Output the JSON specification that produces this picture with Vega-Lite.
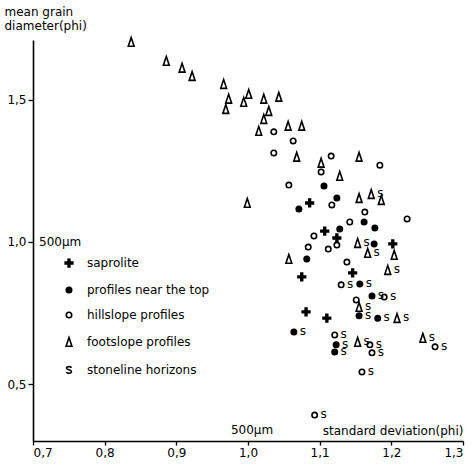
{
  "$schema": "https://vega.github.io/schema/vega-lite/v6.json",
  "width": 430,
  "height": 401,
  "autosize": {"type": "none"},
  "padding": {"left": 33, "top": 40, "right": 8, "bottom": 24},
  "background": "white",
  "config": {
    "view": {"stroke": null},
    "font": "DejaVu Sans",
    "axis": {
      "domainColor": "black",
      "domainWidth": 1.6,
      "tickColor": "black",
      "tickWidth": 1.3,
      "labelColor": "black",
      "labelFontSize": 12,
      "titleColor": "black",
      "titleFontSize": 12,
      "titleFontWeight": "normal",
      "grid": false
    },
    "legend": {
      "title": null,
      "orient": "none",
      "legendX": 30,
      "legendY": 217,
      "padding": 0,
      "symbolSize": 81,
      "symbolStrokeWidth": 1.6,
      "symbolOpacity": 1,
      "labelFontSize": 12,
      "labelColor": "black",
      "labelOffset": 12,
      "rowPadding": 13,
      "labelLimit": 300
    }
  },
  "datasets": {
    "pts": [
      {"sd": 1.086, "mean": 1.137, "type": "saprolite", "s": false},
      {"sd": 1.107, "mean": 1.038, "type": "saprolite", "s": false},
      {"sd": 1.124, "mean": 1.014, "type": "saprolite", "s": false},
      {"sd": 1.202, "mean": 0.993, "type": "saprolite", "s": false},
      {"sd": 1.146, "mean": 0.891, "type": "saprolite", "s": false},
      {"sd": 1.075, "mean": 0.877, "type": "saprolite", "s": false},
      {"sd": 1.081, "mean": 0.754, "type": "saprolite", "s": false},
      {"sd": 1.110, "mean": 0.732, "type": "saprolite", "s": false},

      {"sd": 1.106, "mean": 1.197, "type": "profiles near the top", "s": false},
      {"sd": 1.124, "mean": 1.154, "type": "profiles near the top", "s": false},
      {"sd": 1.071, "mean": 1.116, "type": "profiles near the top", "s": false},
      {"sd": 1.162, "mean": 1.070, "type": "profiles near the top", "s": false},
      {"sd": 1.128, "mean": 1.045, "type": "profiles near the top", "s": false},
      {"sd": 1.177, "mean": 1.049, "type": "profiles near the top", "s": false},
      {"sd": 1.176, "mean": 0.993, "type": "profiles near the top", "s": false},
      {"sd": 1.082, "mean": 0.940, "type": "profiles near the top", "s": false},
      {"sd": 1.156, "mean": 0.852, "type": "profiles near the top", "s": true},
      {"sd": 1.173, "mean": 0.810, "type": "profiles near the top", "s": true},
      {"sd": 1.155, "mean": 0.740, "type": "profiles near the top", "s": true},
      {"sd": 1.181, "mean": 0.732, "type": "profiles near the top", "s": true},
      {"sd": 1.064, "mean": 0.683, "type": "profiles near the top", "s": true},
      {"sd": 1.123, "mean": 0.638, "type": "profiles near the top", "s": true},
      {"sd": 1.121, "mean": 0.613, "type": "profiles near the top", "s": true},

      {"sd": 1.036, "mean": 1.387, "type": "hillslope profiles", "s": false},
      {"sd": 1.063, "mean": 1.355, "type": "hillslope profiles", "s": false},
      {"sd": 1.036, "mean": 1.313, "type": "hillslope profiles", "s": false},
      {"sd": 1.116, "mean": 1.302, "type": "hillslope profiles", "s": false},
      {"sd": 1.102, "mean": 1.246, "type": "hillslope profiles", "s": false},
      {"sd": 1.184, "mean": 1.270, "type": "hillslope profiles", "s": false},
      {"sd": 1.057, "mean": 1.200, "type": "hillslope profiles", "s": false},
      {"sd": 1.117, "mean": 1.130, "type": "hillslope profiles", "s": false},
      {"sd": 1.163, "mean": 1.105, "type": "hillslope profiles", "s": false},
      {"sd": 1.222, "mean": 1.081, "type": "hillslope profiles", "s": false},
      {"sd": 1.142, "mean": 1.070, "type": "hillslope profiles", "s": false},
      {"sd": 1.092, "mean": 1.021, "type": "hillslope profiles", "s": false},
      {"sd": 1.124, "mean": 0.989, "type": "hillslope profiles", "s": false},
      {"sd": 1.084, "mean": 0.982, "type": "hillslope profiles", "s": false},
      {"sd": 1.112, "mean": 0.975, "type": "hillslope profiles", "s": false},
      {"sd": 1.138, "mean": 0.929, "type": "hillslope profiles", "s": false},
      {"sd": 1.151, "mean": 0.796, "type": "hillslope profiles", "s": false},
      {"sd": 1.130, "mean": 0.849, "type": "hillslope profiles", "s": true},
      {"sd": 1.190, "mean": 0.806, "type": "hillslope profiles", "s": true},
      {"sd": 1.121, "mean": 0.673, "type": "hillslope profiles", "s": true},
      {"sd": 1.170, "mean": 0.638, "type": "hillslope profiles", "s": true},
      {"sd": 1.173, "mean": 0.610, "type": "hillslope profiles", "s": true},
      {"sd": 1.159, "mean": 0.543, "type": "hillslope profiles", "s": true},
      {"sd": 1.261, "mean": 0.631, "type": "hillslope profiles", "s": true},
      {"sd": 1.093, "mean": 0.391, "type": "hillslope profiles", "s": true},

      {"sd": 0.837, "mean": 1.703, "type": "footslope profiles", "s": false},
      {"sd": 0.886, "mean": 1.636, "type": "footslope profiles", "s": false},
      {"sd": 0.908, "mean": 1.612, "type": "footslope profiles", "s": false},
      {"sd": 0.922, "mean": 1.583, "type": "footslope profiles", "s": false},
      {"sd": 0.966, "mean": 1.555, "type": "footslope profiles", "s": false},
      {"sd": 0.973, "mean": 1.503, "type": "footslope profiles", "s": false},
      {"sd": 0.969, "mean": 1.467, "type": "footslope profiles", "s": false},
      {"sd": 1.001, "mean": 1.520, "type": "footslope profiles", "s": false},
      {"sd": 0.994, "mean": 1.492, "type": "footslope profiles", "s": false},
      {"sd": 1.022, "mean": 1.503, "type": "footslope profiles", "s": false},
      {"sd": 1.043, "mean": 1.510, "type": "footslope profiles", "s": false},
      {"sd": 1.029, "mean": 1.460, "type": "footslope profiles", "s": false},
      {"sd": 1.022, "mean": 1.432, "type": "footslope profiles", "s": false},
      {"sd": 1.015, "mean": 1.390, "type": "footslope profiles", "s": false},
      {"sd": 1.056, "mean": 1.408, "type": "footslope profiles", "s": false},
      {"sd": 1.075, "mean": 1.408, "type": "footslope profiles", "s": false},
      {"sd": 1.068, "mean": 1.299, "type": "footslope profiles", "s": false},
      {"sd": 1.102, "mean": 1.278, "type": "footslope profiles", "s": false},
      {"sd": 1.155, "mean": 1.299, "type": "footslope profiles", "s": false},
      {"sd": 1.128, "mean": 1.232, "type": "footslope profiles", "s": false},
      {"sd": 0.999, "mean": 1.137, "type": "footslope profiles", "s": false},
      {"sd": 1.155, "mean": 1.154, "type": "footslope profiles", "s": false},
      {"sd": 1.186, "mean": 1.147, "type": "footslope profiles", "s": false},
      {"sd": 1.204, "mean": 0.954, "type": "footslope profiles", "s": false},
      {"sd": 1.057, "mean": 0.940, "type": "footslope profiles", "s": false},
      {"sd": 1.172, "mean": 1.168, "type": "footslope profiles", "s": true},
      {"sd": 1.153, "mean": 0.996, "type": "footslope profiles", "s": true},
      {"sd": 1.167, "mean": 0.961, "type": "footslope profiles", "s": true},
      {"sd": 1.195, "mean": 0.901, "type": "footslope profiles", "s": true},
      {"sd": 1.155, "mean": 0.771, "type": "footslope profiles", "s": true},
      {"sd": 1.208, "mean": 0.732, "type": "footslope profiles", "s": true},
      {"sd": 1.153, "mean": 0.648, "type": "footslope profiles", "s": true},
      {"sd": 1.244, "mean": 0.662, "type": "footslope profiles", "s": true}
    ],
    "xnote": [{"sd": 1.0, "mean": 0.3, "label": "500µm"}],
    "ynote": [{"sd": 0.7, "mean": 1.0, "label": "500µm"}]
  },
  "layer": [
    {
      "data": {"name": "pts"},
      "mark": {"type": "point", "filled": true, "strokeWidth": 1.6, "size": 81, "opacity": 1, "strokeOpacity": 1, "fillOpacity": 1},
      "encoding": {
        "x": {
          "field": "sd", "type": "quantitative",
          "scale": {"domain": [0.7, 1.3], "nice": false, "zero": false},
          "axis": {
            "values": [0.7, 0.8, 0.9, 1.0, 1.1, 1.2, 1.3],
            "labelExpr": "replace(format(datum.value, '.1f'), '.', ',')",
            "tickSize": 4,
            "labelPadding": 2,
            "title": "standard deviation(phi)",
            "titleX": 430,
            "titleY": -4,
            "titleAlign": "right",
            "titleBaseline": "bottom",
            "titleAnchor": "end"
          }
        },
        "y": {
          "field": "mean", "type": "quantitative",
          "scale": {"domain": [0.3, 1.71], "nice": false, "zero": false},
          "axis": {
            "values": [0.5, 1.0, 1.5],
            "labelExpr": "replace(format(datum.value, '.1f'), '.', ',')",
            "tickSize": 5,
            "labelPadding": 2,
            "title": ["mean grain", "diameter(phi)"],
            "titleAngle": 0,
            "titleAlign": "left",
            "titleBaseline": "top",
            "titleX": -29,
            "titleY": -34,
            "titleLineHeight": 14
          }
        },
        "shape": {
          "field": "type", "type": "nominal",
          "scale": {
            "domain": ["saprolite", "profiles near the top", "hillslope profiles", "footslope profiles", "stoneline horizons"],
            "range": [
              "M-0.2,-0.85L0.2,-0.85L0.2,-0.2L0.85,-0.2L0.85,0.2L0.2,0.2L0.2,0.85L-0.2,0.85L-0.2,0.2L-0.85,0.2L-0.85,-0.2L-0.2,-0.2Z",
              "M0.6,0A0.6,0.6,0,1,1,-0.6,0A0.6,0.6,0,1,1,0.6,0Z",
              "M0.6,0A0.6,0.6,0,1,1,-0.6,0A0.6,0.6,0,1,1,0.6,0Z",
              "M0,-1L0.65,0.95L-0.65,0.95Z",
              "M0.55,-0.5C0.45,-0.85 -0.55,-0.85 -0.55,-0.4C-0.55,0 0.55,-0.1 0.55,0.35C0.55,0.85 -0.45,0.85 -0.6,0.45"
            ]
          }
        },
        "fill": {
          "field": "type", "type": "nominal",
          "scale": {
            "domain": ["saprolite", "profiles near the top", "hillslope profiles", "footslope profiles", "stoneline horizons"],
            "range": ["black", "black", "white", "white", "transparent"]
          }
        },
        "stroke": {
          "field": "type", "type": "nominal",
          "scale": {
            "domain": ["saprolite", "profiles near the top", "hillslope profiles", "footslope profiles", "stoneline horizons"],
            "range": ["black", "black", "black", "black", "black"]
          }
        }
      }
    },
    {
      "data": {"name": "pts"},
      "transform": [{"filter": "datum.s"}],
      "mark": {"type": "text", "text": "s", "fontSize": 12, "dx": 9, "dy": -1, "align": "center", "baseline": "middle", "color": "black"},
      "encoding": {
        "x": {"field": "sd", "type": "quantitative"},
        "y": {"field": "mean", "type": "quantitative"}
      }
    },
    {
      "data": {"name": "xnote"},
      "mark": {"type": "text", "fontSize": 12, "dx": 4, "dy": -4, "align": "center", "baseline": "bottom", "color": "black"},
      "encoding": {
        "x": {"field": "sd", "type": "quantitative"},
        "y": {"field": "mean", "type": "quantitative"},
        "text": {"field": "label"}
      }
    },
    {
      "data": {"name": "ynote"},
      "mark": {"type": "text", "fontSize": 12, "dx": 6, "dy": 0, "align": "left", "baseline": "middle", "color": "black"},
      "encoding": {
        "x": {"field": "sd", "type": "quantitative"},
        "y": {"field": "mean", "type": "quantitative"},
        "text": {"field": "label"}
      }
    }
  ]
}
